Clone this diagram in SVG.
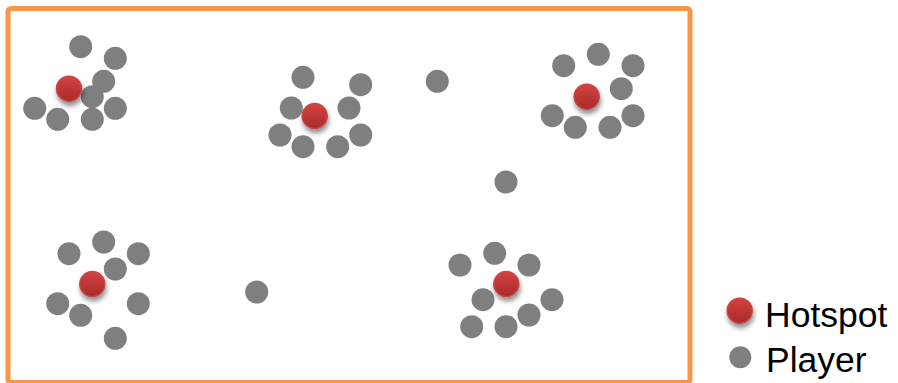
<svg xmlns="http://www.w3.org/2000/svg" width="898" height="383" viewBox="0 0 898 383">
<defs>
<linearGradient id="redGrad" x1="0" y1="0" x2="0" y2="1">
<stop offset="0" stop-color="#d64242"/>
<stop offset="1" stop-color="#a82a2a"/>
</linearGradient>
<filter id="shadow" x="-60%" y="-60%" width="220%" height="220%">
<feGaussianBlur in="SourceAlpha" stdDeviation="2.5"/>
<feOffset dx="1" dy="4" result="b"/>
<feComponentTransfer><feFuncA type="linear" slope="0.45"/></feComponentTransfer>
<feMerge><feMergeNode/><feMergeNode in="SourceGraphic"/></feMerge>
</filter>
<g id="hot"><circle r="12.5" fill="url(#redGrad)" stroke="#c94444" stroke-width="1.5" filter="url(#shadow)"/></g>
</defs>
<style>
.p{fill:#7f7f7f}
.lbl{font-family:"Liberation Sans",Arial,sans-serif;font-size:35.5px;fill:#000}
</style>
<rect x="8" y="8.5" width="682" height="374" rx="3" fill="#fff" stroke="#f79646" stroke-width="5"/>
<g id="cluster1">
<circle class="p" cx="80.7" cy="46.7" r="11.5"/>
<circle class="p" cx="115.3" cy="58.3" r="11.5"/>
<circle class="p" cx="103.7" cy="81.3" r="11.5"/>
<circle class="p" cx="92.3" cy="96.7" r="11.5"/>
<circle class="p" cx="34.7" cy="108.3" r="11.5"/>
<circle class="p" cx="57.7" cy="119.3" r="11.5"/>
<circle class="p" cx="92.3" cy="119.3" r="11.5"/>
<circle class="p" cx="115.3" cy="108.3" r="11.5"/>
<use href="#hot" x="69" y="88.7"/>
</g>
<g id="cluster2">
<circle class="p" cx="303" cy="77.3" r="11.5"/>
<circle class="p" cx="360.7" cy="84.7" r="11.5"/>
<circle class="p" cx="291.3" cy="108" r="11.5"/>
<circle class="p" cx="349" cy="108" r="11.5"/>
<circle class="p" cx="280" cy="135" r="11.5"/>
<circle class="p" cx="303" cy="146.7" r="11.5"/>
<circle class="p" cx="337.7" cy="146.7" r="11.5"/>
<circle class="p" cx="360.7" cy="135" r="11.5"/>
<use href="#hot" x="314.7" y="116"/>
</g>
<g id="cluster3">
<circle class="p" cx="598.3" cy="54.3" r="11.5"/>
<circle class="p" cx="563.7" cy="65.7" r="11.5"/>
<circle class="p" cx="633" cy="65.7" r="11.5"/>
<circle class="p" cx="621.3" cy="88.7" r="11.5"/>
<circle class="p" cx="552.3" cy="115.7" r="11.5"/>
<circle class="p" cx="575.3" cy="127.3" r="11.5"/>
<circle class="p" cx="610" cy="127.3" r="11.5"/>
<circle class="p" cx="633" cy="115.7" r="11.5"/>
<use href="#hot" x="586.7" y="96.7"/>
</g>
<g id="cluster4">
<circle class="p" cx="103.7" cy="242" r="11.5"/>
<circle class="p" cx="69" cy="253.7" r="11.5"/>
<circle class="p" cx="138.3" cy="253.7" r="11.5"/>
<circle class="p" cx="115.3" cy="269" r="11.5"/>
<circle class="p" cx="57.7" cy="303.7" r="11.5"/>
<circle class="p" cx="80.7" cy="315.3" r="11.5"/>
<circle class="p" cx="138.3" cy="303.7" r="11.5"/>
<circle class="p" cx="115.3" cy="338.3" r="11.5"/>
<use href="#hot" x="92.3" y="284"/>
</g>
<g id="cluster5">
<circle class="p" cx="494.7" cy="253.3" r="11.5"/>
<circle class="p" cx="460" cy="265" r="11.5"/>
<circle class="p" cx="529" cy="265" r="11.5"/>
<circle class="p" cx="483" cy="299.7" r="11.5"/>
<circle class="p" cx="552" cy="299.7" r="11.5"/>
<circle class="p" cx="529" cy="315" r="11.5"/>
<circle class="p" cx="471.7" cy="326.7" r="11.5"/>
<circle class="p" cx="506" cy="326.7" r="11.5"/>
<use href="#hot" x="506.3" y="284"/>
</g>
<g id="loners">
<circle class="p" cx="437.3" cy="81.3" r="11.5"/>
<circle class="p" cx="506" cy="182" r="11.5"/>
<circle class="p" cx="256.7" cy="292" r="11.5"/>
</g>
<g id="legend">
<use href="#hot" x="739.7" y="310.7"/>
<circle class="p" cx="740.3" cy="357.3" r="11"/>
<text class="lbl" x="765" y="326.5">Hotspot</text>
<text class="lbl" x="766" y="372">Player</text>
</g>
</svg>
